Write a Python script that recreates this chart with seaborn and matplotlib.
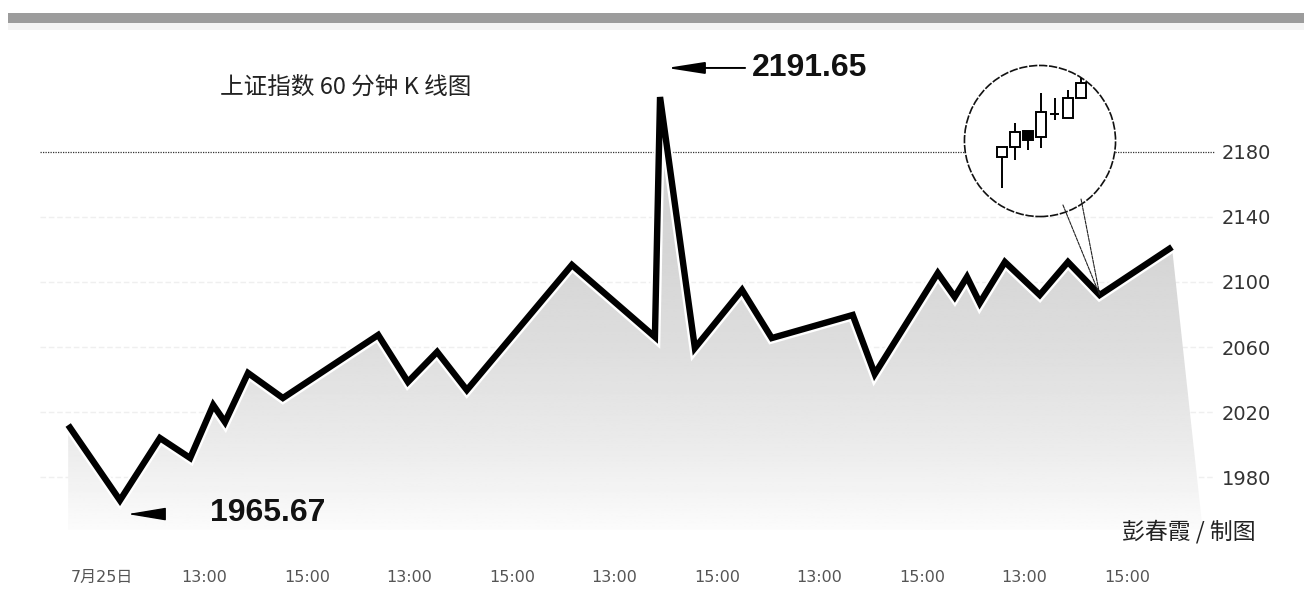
import numpy as np
import pandas as pd
import matplotlib
matplotlib.use("Agg")
import matplotlib.pyplot as plt
import seaborn as sns
from matplotlib import patheffects as pe
from matplotlib.patches import Circle, Rectangle, Polygon, ConnectionPatch

# ---------------- data ----------------
hours = [-0.66, 0.35, 1.13, 1.72, 2.17, 2.40, 2.85, 3.53, 5.39, 5.97, 6.54, 7.12,
         9.17, 10.79, 10.89, 11.57, 12.49, 13.07, 14.65, 15.08, 16.31, 16.64,
         16.88, 17.13, 17.62, 18.30, 18.85, 19.47, 20.88]
index_values = [2012.0, 1965.67, 2004.0, 1991.7, 2024.3, 2013.8, 2044.0, 2028.6,
                2067.4, 2038.5, 2057.0, 2033.5, 2110.5, 2066.2, 2213.8, 2059.4,
                2095.1, 2065.5, 2079.7, 2043.4, 2105.5, 2090.8, 2103.1, 2087.1,
                2112.3, 2092.0, 2112.3, 2092.0, 2121.5]
tick_pos = [0, 2, 4, 6, 8, 10, 12, 14, 16, 18, 20]
tick_labels = ["7月25日", "13:00", "15:00", "13:00", "15:00", "13:00",
               "15:00", "13:00", "15:00", "13:00", "15:00"]
y_ticks = [1980, 2020, 2060, 2100, 2140, 2180]
peak_label = "2191.65"
low_label = "1965.67"
title = "上证指数 60 分钟 K 线图"
credit = "彭春霞 / 制图"

# inset candlesticks (60-minute K lines)
candle_open = [2110.0, 2115.0, 2123.0, 2120.0, 2131.5, 2129.5, 2139.5]
candle_high = [2115.0, 2127.0, 2123.0, 2142.0, 2139.5, 2143.5, 2149.5]
candle_low = [2094.5, 2108.5, 2113.5, 2114.5, 2128.5, 2129.5, 2139.5]
candle_close = [2115.0, 2122.5, 2118.5, 2132.5, 2131.5, 2139.5, 2147.0]

df = pd.DataFrame({"hour": hours, "index": index_values})

# ---------------- style ----------------
sns.set_theme(style="white")
plt.rcParams['font.family'] = ['DejaVu Sans', 'Noto Sans CJK SC']
CJK = ['Noto Sans CJK SC', 'DejaVu Sans']

W, H = 1304, 610
fig = plt.figure(figsize=(W / 100, H / 100), dpi=100, facecolor='white')


def px(x0, y0, x1, y1):
    return [x0 / W, 1 - y1 / H, (x1 - x0) / W, (y1 - y0) / H]


ax = fig.add_axes(px(40, 40, 1215, 530))
ax.set_facecolor('white')
xlim = (-1.21, 21.72)
ylim = (1947.4, 2248.9)
ax.set_xlim(*xlim)
ax.set_ylim(*ylim)
for s in ax.spines.values():
    s.set_visible(False)

# grid lines
for v in y_ticks:
    if v == 2180:
        ax.axhline(v, color='#333333', ls=(0, (1, 1)), lw=0.9, zorder=0.5)
    else:
        ax.axhline(v, color='#efefef', ls=(0, (4, 2)), lw=1.0, zorder=0.5)

# gradient area under the line
verts = list(zip(hours, index_values)) + [(hours[-1] + 0.6, ylim[0]), (hours[0], ylim[0])]
poly = Polygon(verts, closed=True, fc='none', ec='none')
ax.add_patch(poly)
yy = np.linspace(ylim[0], ylim[1], 300)
ypx = 152 + (2180 - yy) * 1.625
shade = np.interp(ypx, [100, 250, 350, 450, 530], [0.82, 0.835, 0.87, 0.925, 0.985])
grad = np.tile(shade[:, None], (1, 2))
im = ax.imshow(grad, extent=[xlim[0], xlim[1], ylim[0], ylim[1]], origin='lower',
               aspect='auto', cmap='gray', vmin=0, vmax=1, zorder=1)
im.set_clip_path(poly)

# main line
sns.lineplot(data=df, x='hour', y='index', ax=ax, color='black', lw=4.6,
             sort=False, estimator=None, zorder=3)
ln = ax.lines[-1]
ln.set_solid_joinstyle('miter')
ln.set_solid_capstyle('butt')
ln.set_path_effects([pe.Stroke(linewidth=8, foreground='white'), pe.Normal()])

ax.set_xlabel('')
ax.set_ylabel('')
ax.set_xticks(tick_pos, tick_labels)
ax.tick_params(axis='x', length=0, pad=29, labelsize=11.5, labelcolor='#555555')
ax.yaxis.tick_right()
ax.set_yticks(y_ticks)
ax.tick_params(axis='y', length=0, pad=5, labelsize=14, labelcolor='#333333')

# annotations: peak and low
i_peak = int(np.argmax(index_values))
i_low = int(np.argmin(index_values))
ya = 2231.7
ax.annotate('', xy=(hours[i_peak] + 0.13, ya), xytext=(hours[i_peak] + 1.66, ya),
            arrowprops=dict(arrowstyle='-|>,head_length=2.3,head_width=0.36',
                            mutation_scale=10, color='black', lw=1.4,
                            shrinkA=0, shrinkB=0), zorder=5)
ax.text(hours[i_peak] + 1.79, ya, peak_label, ha='left', va='center', fontsize=23,
        fontweight='bold', family='Liberation Sans', color='#111111', zorder=5)

yl = 1957.2
ax.annotate('', xy=(hours[i_low] + 0.15, yl), xytext=(hours[i_low] + 0.68, yl),
            arrowprops=dict(arrowstyle='-|>,head_length=2.4,head_width=0.4',
                            mutation_scale=10, color='black', lw=1.0,
                            shrinkA=0, shrinkB=0), zorder=5)
ax.text(hours[i_low] + 2.89, yl + 0.6, low_label, ha='center', va='center', fontsize=23,
        fontweight='bold', family='Liberation Sans', color='#111111', zorder=5)

# ---------------- inset with candlesticks ----------------
iax = fig.add_axes(px(964, 65, 1116, 217))
iax.set_xlim(-2.885, 8.66)
iax.set_ylim(2080, 2156)
iax.axis('off')
iax.patch.set_visible(False)
circ = Circle((0.5, 0.5), 0.497, transform=iax.transAxes, fc='white', ec='#111111',
              lw=1.2, ls=(0, (5, 1)), clip_on=False, zorder=0)
iax.add_patch(circ)
for i, (o, h, l, c) in enumerate(zip(candle_open, candle_high, candle_low, candle_close)):
    iax.vlines(i, l, h, color='black', lw=1.4, zorder=2)
    if abs(c - o) < 0.5:
        iax.hlines(o, i - 0.36, i + 0.36, color='black', lw=1.4, zorder=3)
    else:
        fc = 'white' if c > o else 'black'
        iax.add_patch(Rectangle((i - 0.38, min(o, c)), 0.76, abs(c - o), fc=fc,
                                ec='black', lw=1.4, zorder=3))

for pa in [(0.651, 0.079), (0.77, 0.118)]:
    con = ConnectionPatch(xyA=pa, coordsA=iax.transAxes,
                          xyB=(hours[27], index_values[27]), coordsB=ax.transData,
                          color='#222222', lw=0.8, ls=(0, (3, 1)), zorder=4)
    fig.add_artist(con)

# ---------------- header bar and texts ----------------
fig.add_artist(Rectangle((8 / W, 1 - 23 / H), 1 - 8 / W, 10 / H, transform=fig.transFigure,
                         fc='#9c9c9c', ec='none'))
fig.add_artist(Rectangle((8 / W, 1 - 30 / H), 1 - 8 / W, 7 / H, transform=fig.transFigure,
                         fc='#f4f4f4', ec='none'))

fig.text(220 / W, 1 - 87 / H, title, ha='left', va='center', fontsize=17,
         family=CJK, color='#222222')
fig.text(1122 / W, 1 - 532 / H, credit, ha='left', va='center', fontsize=16.5,
         family=CJK, color='#222222')

fig.savefig('out.png', dpi=100, facecolor='white')
